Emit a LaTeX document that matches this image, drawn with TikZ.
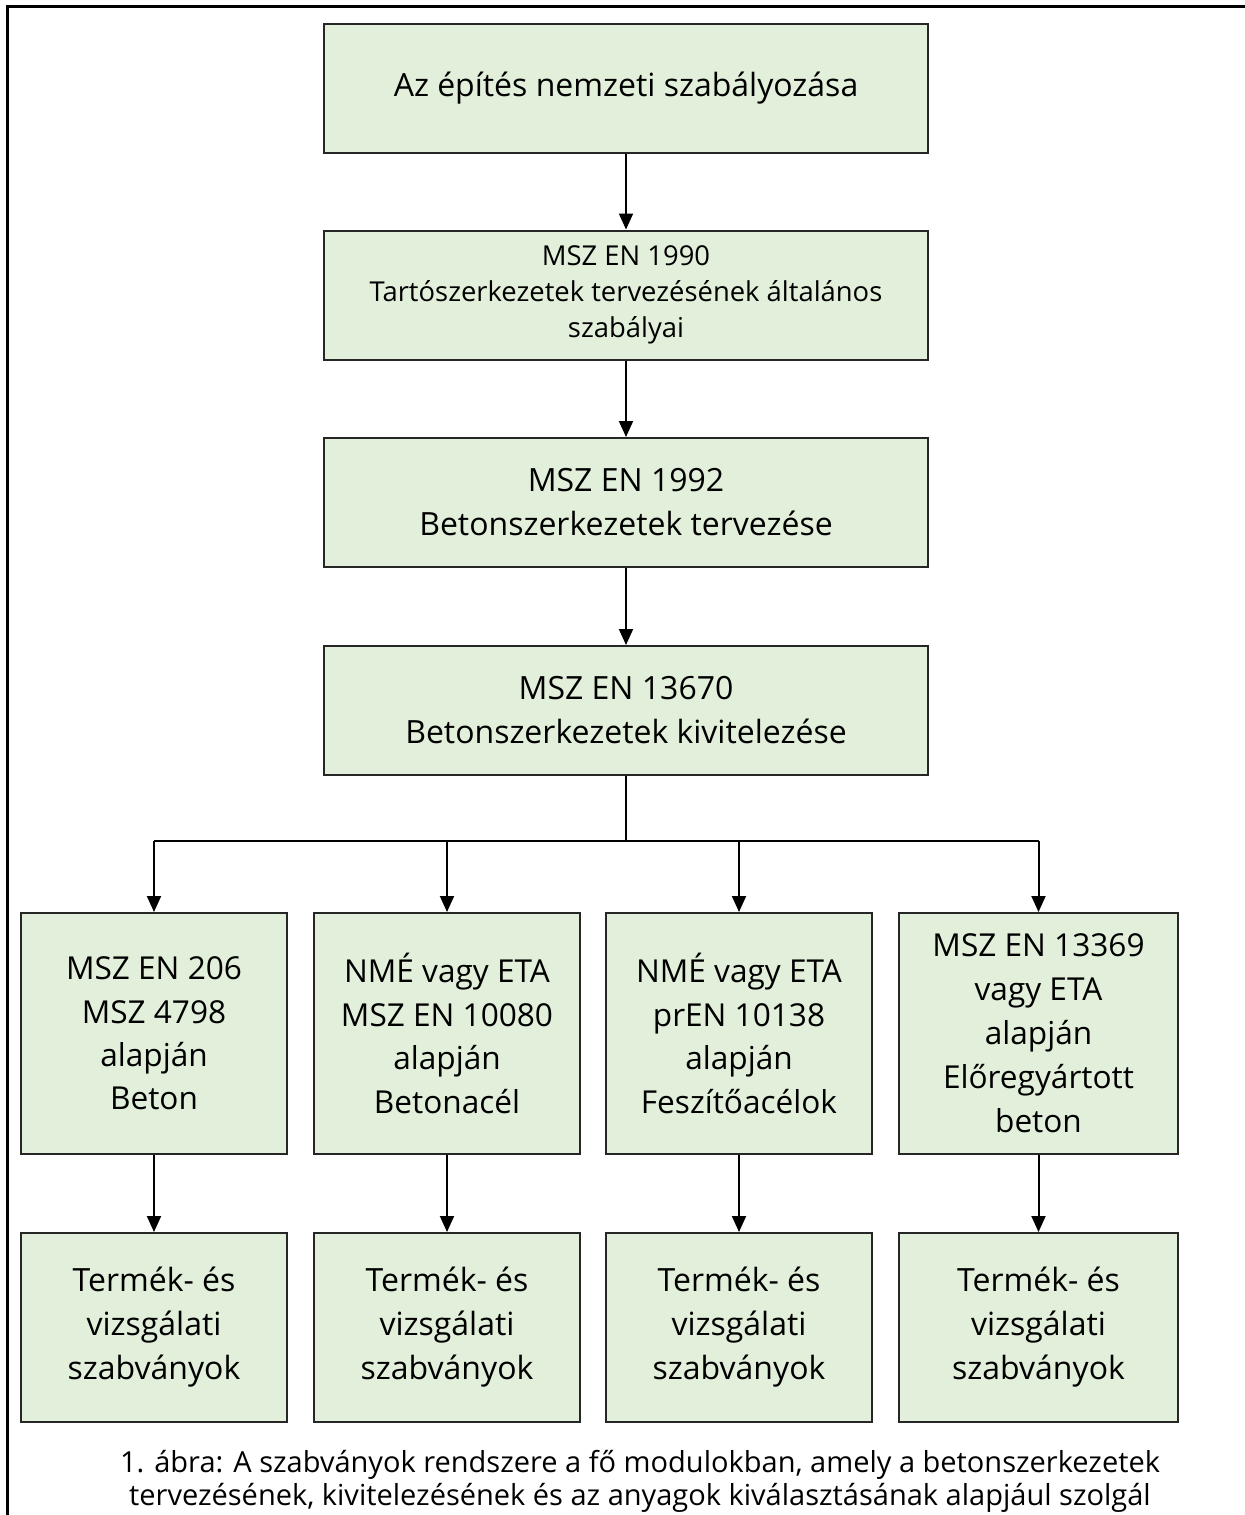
\documentclass[tikz,border=0pt]{standalone}
\usepackage{fontspec}
\setmainfont{Open Sans}
\usetikzlibrary{arrows.meta}

\definecolor{boxgreen}{HTML}{E2EFDA}

\begin{document}
\begin{tikzpicture}[x=0.5pt, y=-0.5pt,
        box/.style={draw=black!85, line width=1pt, fill=boxgreen, align=center, inner sep=0pt},
        mainbox/.style={box, minimum width=302pt, minimum height=64.5pt},
        matbox/.style={box, minimum width=133pt, minimum height=120.5pt, font=\fontsize{15.8}{21.7}\selectfont},
        prodbox/.style={box, minimum width=133pt, minimum height=94.5pt, font=\fontsize{16}{22}\selectfont},
        conn/.style={line width=1pt},
        arr/.style={conn, -{Triangle[length=8pt, width=7pt]}}]
        \useasboundingbox (0,0) rectangle (1244,1515);

        % keret
        \draw[line width=1.5pt] (7,1530) -- (7,6) -- (1260,6);

        \node[mainbox, font=\fontsize{16}{22}\selectfont] (natl) at (626,88) {Az építés nemzeti szabályozása};
        \node[mainbox, font=\fontsize{13.7}{18}\selectfont] (en1990) at (626,295) {MSZ EN 1990\\Tartószerkezetek tervezésének általános\\szabályai};
        \node[mainbox, font=\fontsize{16}{22}\selectfont] (en1992) at (626,502.5) {MSZ EN 1992\\Betonszerkezetek tervezése};
        \node[mainbox, font=\fontsize{16}{22}\selectfont] (en13670) at (626,710.5) {MSZ EN 13670\\Betonszerkezetek kivitelezése};

        \draw[arr] (natl) -- (en1990);
        \draw[arr] (en1990) -- (en1992);
        \draw[arr] (en1992) -- (en13670);

        % anyagok
        \node[matbox] (beton) at (154,1033.5) {MSZ EN 206\\MSZ 4798\\alapján\\Beton};
        \node[matbox] (acel) at (447,1033.5) {NMÉ vagy ETA\\MSZ EN 10080\\alapján\\Betonacél};
        \node[matbox] (fesz) at (739,1033.5) {NMÉ vagy ETA\\prEN 10138\\alapján\\Feszítőacélok};
        \node[matbox, minimum width=139.5pt, font=\fontsize{15.8}{22}\selectfont] (elo) at (1038.5,1033.5) {MSZ EN 13369\\vagy ETA\\alapján\\Előregyártott\\beton};

        \draw[conn] (en13670.south) -- ++(0,65) coordinate (bus);
        \draw[conn] (bus -| beton.north) -- (bus -| elo.north);
        \foreach \m in {beton, acel, fesz, elo}
            \draw[arr] (bus -| \m.north) -- (\m.north);

        % szabványok
        \node[prodbox] (tbeton) at (154,1327.5) {Termék- és\\vizsgálati\\szabványok};
        \node[prodbox] (tacel) at (447,1327.5) {Termék- és\\vizsgálati\\szabványok};
        \node[prodbox] (tfesz) at (739,1327.5) {Termék- és\\vizsgálati\\szabványok};
        \node[prodbox, minimum width=139.5pt] (telo) at (1038.5,1327.5) {Termék- és\\vizsgálati\\szabványok};

        \draw[arr] (beton) -- (tbeton);
        \draw[arr] (acel) -- (tacel);
        \draw[arr] (fesz) -- (tfesz);
        \draw[arr] (elo) -- (telo);

        \node[align=center, inner sep=0pt, font=\fontsize{14.5}{16.5}\selectfont] (cap) at (640,1481) {1. ábra: A szabványok rendszere a fő modulokban, amely a betonszerkezetek\\tervezésének, kivitelezésének és az anyagok kiválasztásának alapjául szolgál};
    \end{tikzpicture}
\end{document}
